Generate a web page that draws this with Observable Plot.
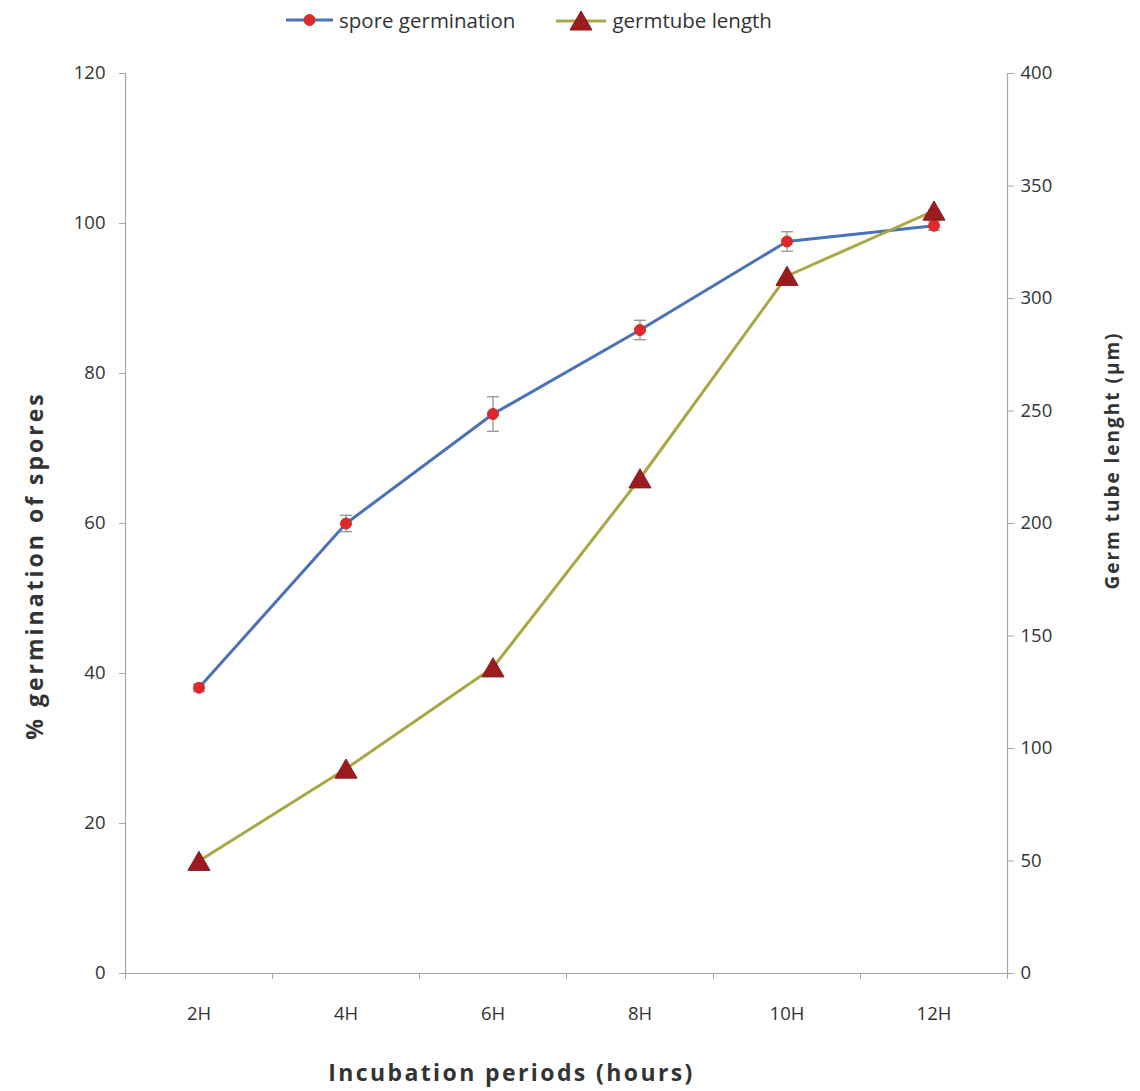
<!DOCTYPE html>
<html>
<head>
<meta charset="utf-8">
<script src="https://cdn.jsdelivr.net/npm/d3@7"></script>
<script src="https://cdn.jsdelivr.net/npm/@observablehq/plot@0.6"></script>
<style>
  html, body { margin: 0; padding: 0; background: #fff; }
  #legend { height: 40px; display: flex; align-items: center; padding-left: 286px; font-family: "Open Sans", sans-serif; font-size: 20.5px; color: #333; }
  #legend .item { display: flex; align-items: center; }
  #legend .item span { margin-left: 6px; }
  #legend .item + .item { margin-left: 41px; }
  #chart svg { display: block; }
</style>
</head>
<body>
<div id="legend"></div>
<div id="chart"></div>
<script>
// ---- data ----
const categories = ["2H", "4H", "6H", "8H", "10H", "12H"];
const germination = [38.1, 60.0, 74.6, 85.8, 97.6, 99.7];
const germinationErr = [0.5, 1.1, 2.3, 1.3, 1.3, 0.6];
const tubeLength = [50, 91, 136, 220, 310, 339];
const leftTicks = [0, 20, 40, 60, 80, 100, 120];
const rightTicks = [0, 50, 100, 150, 200, 250, 300, 350, 400];
const seriesNames = ["spore germination", "germtube length"];
const xTitle = "Incubation periods (hours)";
const yLeftTitle = "% germination of spores";
const yRightTitle = "Germ tube lenght (\u00b5m)";

// ---- styles ----
const blue = "#4a72b8";
const olive = "#a9a845";
const circleFill = "#e3262b";
const circleStroke = "#c0392b";
const triFill = "#9c1b1f";
const triStroke = "#8a1a1c";
const axisGray = "#a6a6a6";
const textColor = "#333";

const n = categories.length;
const leftMax = leftTicks[leftTicks.length - 1];
const rightMax = rightTicks[rightTicks.length - 1];
const k = leftMax / rightMax; // map right-axis values onto left scale

const rows = categories.map((c, i) => ({
  x: i + 1,
  cat: c,
  g: germination[i],
  e: germinationErr[i],
  t: tubeLength[i] * k
}));

const capSymbol = {
  draw(ctx, size) {
    const r = Math.sqrt(size / Math.PI);
    ctx.moveTo(-r, 0);
    ctx.lineTo(r, 0);
  }
};

// ---- legend ----
const legend = document.getElementById("legend");
legend.innerHTML = `
  <div class="item">
    <svg width="47" height="20"><line x1="0" x2="47" y1="10" y2="10" stroke="${blue}" stroke-width="3"/>
    <circle cx="23.5" cy="10" r="5.5" fill="${circleFill}" stroke="${circleStroke}"/></svg>
    <span>${seriesNames[0]}</span>
  </div>
  <div class="item">
    <svg width="50" height="22"><line x1="0" x2="50" y1="12" y2="12" stroke="${olive}" stroke-width="3"/>
    <path d="M25,2 L36,21 L14,21 Z" fill="${triFill}" stroke="${triStroke}"/></svg>
    <span>${seriesNames[1]}</span>
  </div>`;

// ---- chart ----
const chart = Plot.plot({
  width: 1140,
  height: 1051,
  marginTop: 33,
  marginBottom: 118,
  marginLeft: 125,
  marginRight: 133,
  x: { type: "linear", domain: [0.5, n + 0.5] },
  y: { domain: [0, leftMax] },
  style: { fontFamily: "Open Sans, sans-serif", fontSize: "18px", color: textColor, background: "white" },
  marks: [
    Plot.ruleY([0], { stroke: axisGray, strokeWidth: 1.2 }),
    Plot.ruleX([0.5], { stroke: axisGray, strokeWidth: 1.2 }),
    Plot.ruleX([n + 0.5], { stroke: axisGray, strokeWidth: 1.2 }),
    Plot.axisY({ anchor: "left", ticks: leftTicks, tickSize: 6, tickPadding: 14, stroke: axisGray, fill: textColor, label: null, fontSize: 18.5 }),
    Plot.axisY({ anchor: "right", ticks: rightTicks.map(v => v * k), tickFormat: v => Math.round(v / k), tickSize: 6, tickPadding: 7, stroke: axisGray, fill: textColor, label: null, fontSize: 18.5 }),
    Plot.axisX({ ticks: d3.range(n + 1).map(i => i + 0.5), tickFormat: () => "", tickSize: 6, stroke: axisGray, label: null }),
    Plot.axisX({ ticks: d3.range(1, n + 1), tickFormat: i => categories[i - 1], tickSize: 0, tickPadding: 33, fill: textColor, label: null, fontSize: 18.5 }),
    Plot.text([xTitle], { frameAnchor: "bottom", textAnchor: "middle", dx: -55, dy: 107, fontWeight: "bold", fontSize: 23, fill: textColor }),
    Plot.text([yLeftTitle], { frameAnchor: "left", textAnchor: "middle", dx: -90, dy: 42, rotate: -90, fontWeight: "bold", fontSize: 23, fill: textColor }),
    Plot.text([yRightTitle], { frameAnchor: "right", textAnchor: "middle", dx: 105, dy: -63, rotate: -90, fontWeight: "bold", fontSize: 19, fill: textColor }),
    // spore germination
    Plot.line(rows, { x: "x", y: "g", stroke: blue, strokeWidth: 3 }),
    Plot.ruleX(rows, { x: "x", y1: d => d.g - d.e, y2: d => d.g + d.e, stroke: "#8c8c8c", strokeWidth: 1.2 }),
    Plot.dot(rows, { x: "x", y: d => d.g + d.e, symbol: capSymbol, r: 6, stroke: "#8c8c8c", strokeWidth: 1.2, fill: "none" }),
    Plot.dot(rows, { x: "x", y: d => d.g - d.e, symbol: capSymbol, r: 6, stroke: "#8c8c8c", strokeWidth: 1.2, fill: "none" }),
    Plot.dot(rows, { x: "x", y: "g", r: 5.5, fill: circleFill, stroke: circleStroke, strokeWidth: 1 }),
    // germ tube length
    Plot.line(rows, { x: "x", y: "t", stroke: olive, strokeWidth: 3 }),
    Plot.dot(rows, { x: "x", y: "t", symbol: "triangle", r: 8.2, dy: 3, fill: triFill, stroke: triStroke, strokeWidth: 1 })
  ]
});
document.getElementById("chart").appendChild(chart);

// letter spacing on the axis titles
const spacing = new Map([[xTitle, "2.4px"], [yLeftTitle, "3px"], [yRightTitle, "2px"]]);
d3.select(chart).selectAll("text").each(function () {
  const s = spacing.get(this.textContent);
  if (s) this.style.letterSpacing = s;
});
</script>
</body>
</html>
